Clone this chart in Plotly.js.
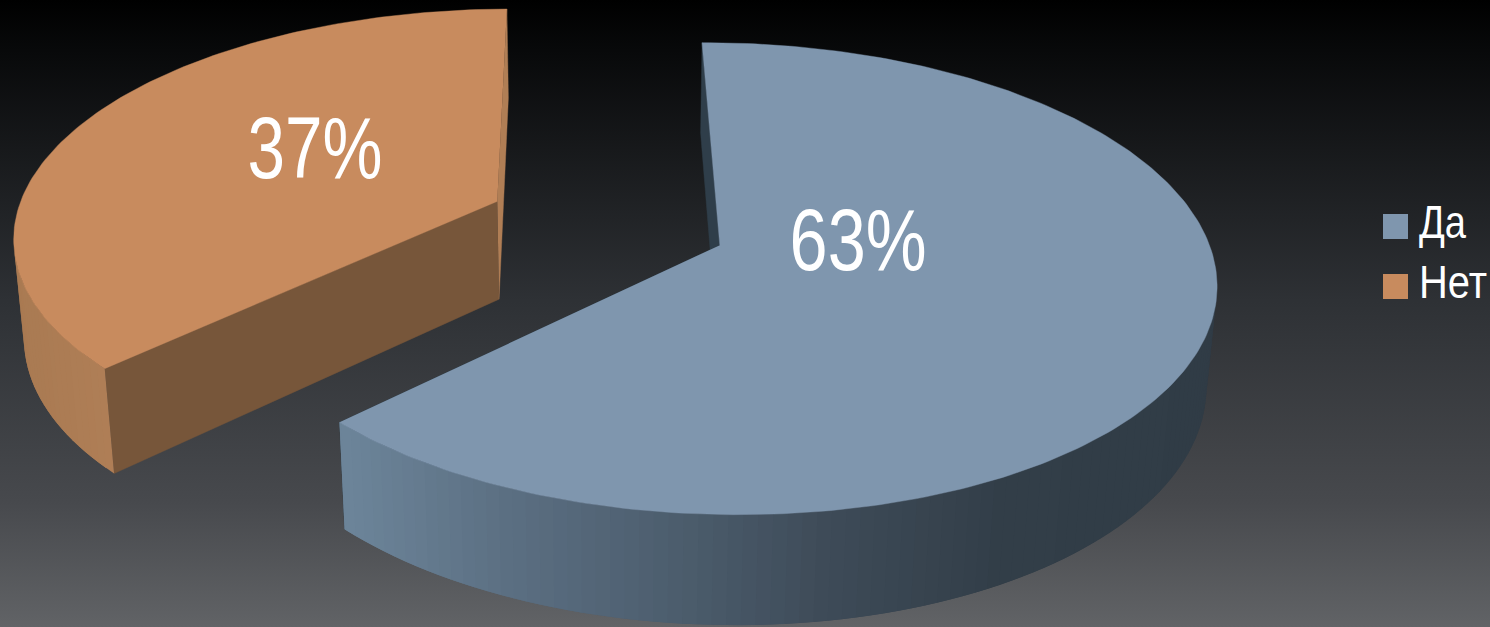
<!DOCTYPE html>
<html>
<head>
<meta charset="utf-8">
<script src="https://cdn.plot.ly/plotly-3.0.1.min.js"></script>
<style>
  html, body { margin: 0; padding: 0; background: #000; overflow: hidden; }
  #chart {
    width: 1490px; height: 627px;
    background: linear-gradient(180deg, #000000 0%, #08090a 8%, #2e3135 48%, #47494d 80%, #616366 100%);
  }
</style>
</head>
<body>
<div id="chart"></div>
<script>
// Survey result: share of answers
const categories = ['Да', 'Нет'];
const percents = [63, 37];

const topColors = ['#7f96ae', '#c88b5e'];
const cutColors = [['#2f3e4a', '#2f3e4a'], ['#77563a', '#b07e55']];
const wallStops = [
  [[345, '#6c8499'], [500, '#5b6f82'], [680, '#4b5c6c'], [820, '#3e4b58'], [1000, '#323e48'], [1220, '#303c46']],
  [[10, '#a97a52'], [120, '#b07f57'], [520, '#b07f57']]
];

// Camera for the tilted disc
const view = { x0: 607, y0: 223, F: 3053, D: 6.32, tilt: 27.76 * Math.PI / 180 };
const disc = { thickness: 0.235, explode: 0.25, firstAngle: -0.5, fineStep: 1, wallStep: 1.5 };
const labelPos = [[858, 239], [315, 147]];
const labelWidths = [137, 135];
const legendWidths = [47, 68];
const FONT = '"Liberation Sans", Arial, sans-serif';

function project(x, y, z) {
  const s = Math.sin(view.tilt), c = Math.cos(view.tilt);
  const depth = view.D + y * c - z * s;
  return [view.x0 + view.F * x / depth, view.y0 - view.F * (y * s + z * c) / depth];
}

function hexToRgb(h) {
  return [1, 3, 5].map(i => parseInt(h.substr(i, 2), 16));
}
function wallColor(stops, x) {
  if (x <= stops[0][0]) return stops[0][1];
  for (let i = 1; i < stops.length; i++) {
    if (x <= stops[i][0]) {
      const t = (x - stops[i - 1][0]) / (stops[i][0] - stops[i - 1][0]);
      const a = hexToRgb(stops[i - 1][1]), b = hexToRgb(stops[i][1]);
      return 'rgb(' + a.map((v, k) => Math.round(v + (b[k] - v) * t)).join(',') + ')';
    }
  }
  return stops[stops.length - 1][1];
}

function polygon(points, color, lineWidth) {
  return {
    type: 'scatter', mode: 'lines', fill: 'toself', fillcolor: color,
    x: points.map(p => p[0]), y: points.map(p => p[1]),
    line: { color: color, width: lineWidth },
    hoverinfo: 'skip', showlegend: false
  };
}

const total = percents.reduce((a, b) => a + b, 0);
const backTraces = [], wallTraces = [], topTraces = [];
let start = disc.firstAngle;

percents.forEach((value, i) => {
  const sweep = value / total * 360;
  const end = start + sweep;
  const mid = (start + sweep / 2) * Math.PI / 180;
  const ox = disc.explode * Math.sin(mid), oy = disc.explode * Math.cos(mid);
  const rim = (deg, z) => {
    const a = deg * Math.PI / 180;
    return project(ox + Math.sin(a), oy + Math.cos(a), z);
  };
  const h = -disc.thickness;

  // Radial cut faces
  [start, end].forEach((deg, k) => {
    backTraces.push(polygon([
      project(ox, oy, 0), rim(deg, 0), rim(deg, h), project(ox, oy, h)
    ], cutColors[i][k], 0.4));
  });

  // Outer wall: overlapping narrow strips that follow the shading
  const camY = -view.D * Math.cos(view.tilt);
  for (let d = start; d < end; d += disc.wallStep) {
    const d2 = Math.min(d + disc.wallStep * 2, end);
    const a = (d + d2) / 2 * Math.PI / 180;
    const facing = (Math.sin(a) * ox + Math.cos(a) * (oy - camY) + 1);
    if (facing >= 0) continue;
    const p = [rim(d, 0), rim((d + d2) / 2, 0), rim(d2, 0), rim(d2, h), rim((d + d2) / 2, h), rim(d, h)];
    wallTraces.push(polygon(p, wallColor(wallStops[i], p[1][0]), 0));
  }

  // Top face
  const face = [project(ox, oy, 0)];
  for (let d = start; d <= end; d += disc.fineStep) face.push(rim(d, 0));
  face.push(rim(end, 0));
  topTraces.push(polygon(face, topColors[i], 0.4));

  start = end;
});

const legendMarks = {
  type: 'scatter', mode: 'markers',
  x: [1395.5, 1395.5], y: [226.5, 286.5],
  marker: { symbol: 'square', size: 25, color: topColors, line: { width: 0 } },
  hoverinfo: 'skip', showlegend: false
};
const legendText = {
  type: 'scatter', mode: 'text',
  x: [1419, 1419], y: [226.5, 286.5],
  text: categories, textposition: 'middle right',
  textfont: { family: FONT, size: 46, color: '#ffffff' },
  hoverinfo: 'skip', showlegend: false, cliponaxis: false
};

const layout = {
  width: 1490, height: 627,
  margin: { l: 0, r: 0, t: 0, b: 0 },
  paper_bgcolor: 'rgba(0,0,0,0)', plot_bgcolor: 'rgba(0,0,0,0)',
  xaxis: { range: [0, 1490], visible: false, fixedrange: true },
  yaxis: { range: [627, 0], visible: false, fixedrange: true },
  showlegend: false,
  annotations: percents.map((v, i) => ({
    x: labelPos[i][0], y: labelPos[i][1], xref: 'x', yref: 'y',
    text: v + '%', showarrow: false,
    font: { family: FONT, size: 88, color: '#ffffff' }
  }))
};

// The labels are set in a condensed width, scaled around their anchor
function condense(el, width) {
  const ax = parseFloat(el.getAttribute('x')) || 0;
  const sx = width / el.getComputedTextLength();
  const prior = el.getAttribute('transform') || '';
  el.setAttribute('transform', `${prior} translate(${ax} 0) scale(${sx} 1) translate(${-ax} 0)`);
}

Plotly.newPlot('chart', [...backTraces, ...wallTraces, ...topTraces, legendMarks, legendText], layout,
  { displayModeBar: false, staticPlot: true }).then(gd => {
    gd.querySelectorAll('.annotation-text').forEach((el, i) => condense(el, labelWidths[i]));
    gd.querySelectorAll('.textpoint text').forEach((el, i) => condense(el, legendWidths[i]));
  });
</script>
</body>
</html>
